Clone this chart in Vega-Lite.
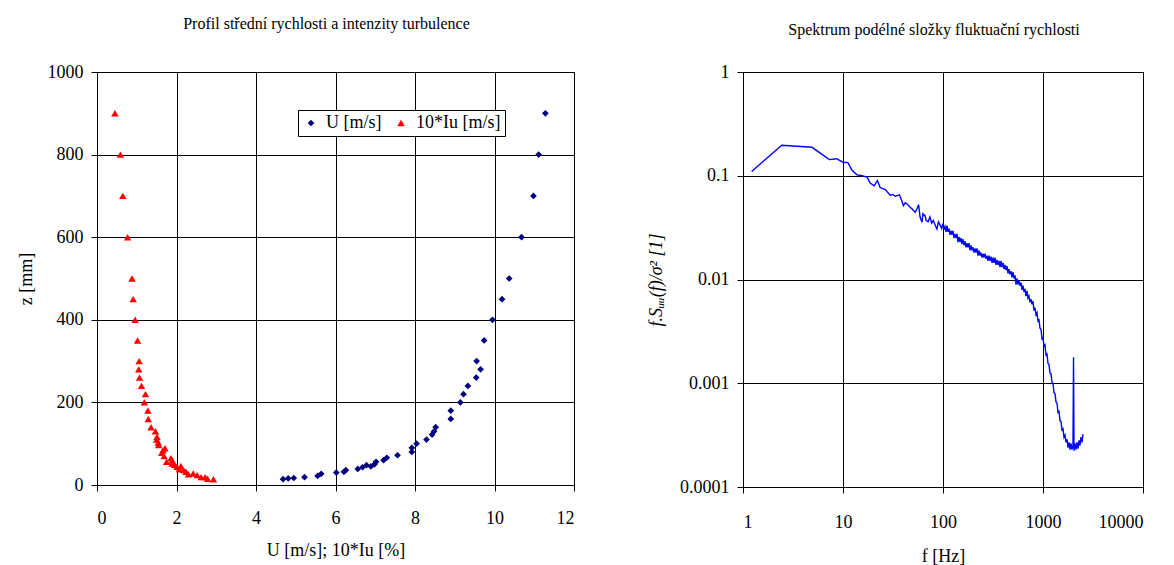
{
  "$schema": "https://vega.github.io/schema/vega-lite/v6.json",
  "padding": {"left": 16, "top": 15, "right": 5, "bottom": 0},
  "background": "white",
  "config": {
    "font": "Liberation Serif",
    "view": {"stroke": "black", "strokeWidth": 1},
    "axis": {
      "domainColor": "black", "gridColor": "black", "gridOpacity": 1, "gridWidth": 1,
      "tickColor": "black", "tickSize": 6, "labelColor": "black", "titleColor": "black",
      "labelFont": "Liberation Serif, Times New Roman, serif", "titleFont": "Liberation Serif",
      "labelFontSize": 18, "titleFontSize": 18, "titleFontWeight": "normal"
    },
    "title": {"font": "Liberation Serif", "fontSize": 16, "fontWeight": "normal", "color": "black"}
  },
  "spacing": 72,
  "hconcat": [
    {
      "width": 477,
      "height": 413,
      "title": {"text": "Profil střední rychlosti a intenzity turbulence", "offset": 31, "dx": -9},
      "data": {"values": [
        {"serie": "U [m/s]", "x": 11.28, "z": 900}, {"serie": "U [m/s]", "x": 11.11, "z": 800},
        {"serie": "U [m/s]", "x": 10.98, "z": 700}, {"serie": "U [m/s]", "x": 10.68, "z": 600},
        {"serie": "U [m/s]", "x": 10.37, "z": 500}, {"serie": "U [m/s]", "x": 10.19, "z": 450},
        {"serie": "U [m/s]", "x": 9.95, "z": 400}, {"serie": "U [m/s]", "x": 9.74, "z": 350},
        {"serie": "U [m/s]", "x": 9.55, "z": 300}, {"serie": "U [m/s]", "x": 9.65, "z": 280},
        {"serie": "U [m/s]", "x": 9.54, "z": 260}, {"serie": "U [m/s]", "x": 9.33, "z": 240},
        {"serie": "U [m/s]", "x": 9.22, "z": 220}, {"serie": "U [m/s]", "x": 9.14, "z": 200},
        {"serie": "U [m/s]", "x": 8.9, "z": 180}, {"serie": "U [m/s]", "x": 8.9, "z": 160},
        {"serie": "U [m/s]", "x": 8.52, "z": 140}, {"serie": "U [m/s]", "x": 8.48, "z": 130},
        {"serie": "U [m/s]", "x": 8.43, "z": 122}, {"serie": "U [m/s]", "x": 8.29, "z": 110},
        {"serie": "U [m/s]", "x": 8.04, "z": 100}, {"serie": "U [m/s]", "x": 7.92, "z": 90},
        {"serie": "U [m/s]", "x": 7.92, "z": 80}, {"serie": "U [m/s]", "x": 7.56, "z": 72},
        {"serie": "U [m/s]", "x": 7.29, "z": 66}, {"serie": "U [m/s]", "x": 7.21, "z": 60},
        {"serie": "U [m/s]", "x": 7.02, "z": 56}, {"serie": "U [m/s]", "x": 6.98, "z": 50},
        {"serie": "U [m/s]", "x": 6.89, "z": 45}, {"serie": "U [m/s]", "x": 6.78, "z": 48},
        {"serie": "U [m/s]", "x": 6.68, "z": 43}, {"serie": "U [m/s]", "x": 6.56, "z": 39},
        {"serie": "U [m/s]", "x": 6.26, "z": 36}, {"serie": "U [m/s]", "x": 6.21, "z": 32},
        {"serie": "U [m/s]", "x": 6.02, "z": 30}, {"serie": "U [m/s]", "x": 5.64, "z": 27},
        {"serie": "U [m/s]", "x": 5.55, "z": 22}, {"serie": "U [m/s]", "x": 5.22, "z": 19},
        {"serie": "U [m/s]", "x": 4.95, "z": 17}, {"serie": "U [m/s]", "x": 4.81, "z": 16},
        {"serie": "U [m/s]", "x": 4.68, "z": 14},
        {"serie": "10*Iu [m/s]", "x": 0.45, "z": 900}, {"serie": "10*Iu [m/s]", "x": 0.59, "z": 800},
        {"serie": "10*Iu [m/s]", "x": 0.65, "z": 700}, {"serie": "10*Iu [m/s]", "x": 0.77, "z": 600},
        {"serie": "10*Iu [m/s]", "x": 0.88, "z": 500}, {"serie": "10*Iu [m/s]", "x": 0.91, "z": 450},
        {"serie": "10*Iu [m/s]", "x": 0.96, "z": 400}, {"serie": "10*Iu [m/s]", "x": 1.02, "z": 350},
        {"serie": "10*Iu [m/s]", "x": 1.06, "z": 300}, {"serie": "10*Iu [m/s]", "x": 1.05, "z": 280},
        {"serie": "10*Iu [m/s]", "x": 1.07, "z": 260}, {"serie": "10*Iu [m/s]", "x": 1.12, "z": 240},
        {"serie": "10*Iu [m/s]", "x": 1.22, "z": 220}, {"serie": "10*Iu [m/s]", "x": 1.19, "z": 200},
        {"serie": "10*Iu [m/s]", "x": 1.28, "z": 180}, {"serie": "10*Iu [m/s]", "x": 1.29, "z": 160},
        {"serie": "10*Iu [m/s]", "x": 1.36, "z": 140}, {"serie": "10*Iu [m/s]", "x": 1.47, "z": 130},
        {"serie": "10*Iu [m/s]", "x": 1.51, "z": 117}, {"serie": "10*Iu [m/s]", "x": 1.5, "z": 110},
        {"serie": "10*Iu [m/s]", "x": 1.54, "z": 103}, {"serie": "10*Iu [m/s]", "x": 1.55, "z": 97},
        {"serie": "10*Iu [m/s]", "x": 1.71, "z": 89}, {"serie": "10*Iu [m/s]", "x": 1.66, "z": 84},
        {"serie": "10*Iu [m/s]", "x": 1.63, "z": 78}, {"serie": "10*Iu [m/s]", "x": 1.69, "z": 70},
        {"serie": "10*Iu [m/s]", "x": 1.86, "z": 65}, {"serie": "10*Iu [m/s]", "x": 1.89, "z": 60},
        {"serie": "10*Iu [m/s]", "x": 1.75, "z": 56}, {"serie": "10*Iu [m/s]", "x": 1.89, "z": 52},
        {"serie": "10*Iu [m/s]", "x": 1.95, "z": 49}, {"serie": "10*Iu [m/s]", "x": 2.11, "z": 46},
        {"serie": "10*Iu [m/s]", "x": 2.01, "z": 44}, {"serie": "10*Iu [m/s]", "x": 2.07, "z": 38},
        {"serie": "10*Iu [m/s]", "x": 2.18, "z": 36}, {"serie": "10*Iu [m/s]", "x": 2.24, "z": 32},
        {"serie": "10*Iu [m/s]", "x": 2.42, "z": 28}, {"serie": "10*Iu [m/s]", "x": 2.3, "z": 26},
        {"serie": "10*Iu [m/s]", "x": 2.52, "z": 24}, {"serie": "10*Iu [m/s]", "x": 2.62, "z": 19},
        {"serie": "10*Iu [m/s]", "x": 2.72, "z": 19}, {"serie": "10*Iu [m/s]", "x": 2.78, "z": 15},
        {"serie": "10*Iu [m/s]", "x": 2.93, "z": 14}
      ]},
      "mark": {"type": "point", "filled": true, "opacity": 1},
      "encoding": {
        "x": {"field": "x", "type": "quantitative",
              "scale": {"domain": [0, 12], "nice": false, "zero": false},
              "axis": {"values": [0, 2, 4, 6, 8, 10, 12], "format": "d", "title": "U [m/s]; 10*Iu [%]", "labelPadding": 18, "titlePadding": 14}},
        "y": {"field": "z", "type": "quantitative",
              "scale": {"domain": [0, 1000], "nice": false},
              "axis": {"values": [0, 200, 400, 600, 800, 1000], "format": "d", "title": "z [mm]", "labelPadding": 8, "titlePadding": 12}},
        "color": {"field": "serie", "type": "nominal",
                  "scale": {"domain": ["U [m/s]", "10*Iu [m/s]"], "range": ["#000080", "#FF0000"]},
                  "legend": {"title": null, "orient": "none", "legendX": 201, "legendY": 38, "direction": "horizontal",
                             "strokeColor": "black", "fillColor": "white", "padding": 4, "labelFontSize": 18,
                             "labelFont": "Liberation Serif", "labelColor": "black", "symbolSize": 30, "columnPadding": 10, "labelOffset": 6}},
        "shape": {"field": "serie", "type": "nominal",
                  "scale": {"domain": ["U [m/s]", "10*Iu [m/s]"], "range": ["diamond", "triangle-up"]}},
        "size": {"field": "serie", "type": "nominal",
                 "scale": {"domain": ["U [m/s]", "10*Iu [m/s]"], "range": [45, 55]}, "legend": null}
      }
    },
    {
      "width": 400,
      "height": 415,
      "title": {"text": "Spektrum podélné složky fluktuační rychlosti", "offset": 25, "dx": -9},
      "data": {"values": [
        {"f": 1.22, "S": 0.110}, {"f": 2.44, "S": 0.197}, {"f": 4.9, "S": 0.188}, {"f": 7.3, "S": 0.143},
        {"f": 8.6, "S": 0.146}, {"f": 10.0, "S": 0.135}, {"f": 11.2, "S": 0.134}, {"f": 12.3, "S": 0.113},
        {"f": 13.8, "S": 0.102}, {"f": 15.5, "S": 0.100}, {"f": 17.4, "S": 0.097}, {"f": 18.7, "S": 0.085},
        {"f": 20.5, "S": 0.080}, {"f": 22.1, "S": 0.090}, {"f": 23.5, "S": 0.077}, {"f": 26.5, "S": 0.0735},
        {"f": 29.7, "S": 0.0645}, {"f": 31.5, "S": 0.066}, {"f": 33.3, "S": 0.0635}, {"f": 36.7, "S": 0.0655},
        {"f": 38.5, "S": 0.058}, {"f": 40.2, "S": 0.0515}, {"f": 42.0, "S": 0.055}, {"f": 43.7, "S": 0.0535},
        {"f": 47.0, "S": 0.0497}, {"f": 50.0, "S": 0.047}, {"f": 52.7, "S": 0.0444}, {"f": 55.0, "S": 0.048},
        {"f": 57.0, "S": 0.0526}, {"f": 59.0, "S": 0.040}, {"f": 61.7, "S": 0.0356}, {"f": 63.0, "S": 0.043},
        {"f": 66.0, "S": 0.0412}, {"f": 68.0, "S": 0.037}, {"f": 71.0, "S": 0.036}, {"f": 74.0, "S": 0.040},
        {"f": 77.0, "S": 0.035}, {"f": 80.0, "S": 0.037}, {"f": 84.0, "S": 0.033}, {"f": 87.0, "S": 0.0307},
        {"f": 90.0, "S": 0.036}, {"f": 94.0, "S": 0.0331}, {"f": 97.0, "S": 0.031},
        {"f": 100.0, "S": 0.03467}, {"f": 102.3, "S": 0.0302}, {"f": 104.7, "S": 0.03236}, {"f": 107.2, "S": 0.02884},
        {"f": 109.6, "S": 0.03311}, {"f": 112.2, "S": 0.02884}, {"f": 114.8, "S": 0.0309}, {"f": 117.5, "S": 0.02692},
        {"f": 120.2, "S": 0.02951}, {"f": 123.0, "S": 0.02692}, {"f": 125.9, "S": 0.02951}, {"f": 128.8, "S": 0.02512},
        {"f": 131.8, "S": 0.02754}, {"f": 134.9, "S": 0.02512}, {"f": 138.0, "S": 0.02754}, {"f": 141.3, "S": 0.02291},
        {"f": 144.5, "S": 0.0257}, {"f": 147.9, "S": 0.02291}, {"f": 151.4, "S": 0.02512}, {"f": 154.9, "S": 0.02188},
        {"f": 158.5, "S": 0.02455}, {"f": 162.2, "S": 0.02138}, {"f": 166.0, "S": 0.02344}, {"f": 169.8, "S": 0.02042},
        {"f": 173.8, "S": 0.02239}, {"f": 177.8, "S": 0.02042}, {"f": 182.0, "S": 0.02239}, {"f": 186.2, "S": 0.01905},
        {"f": 190.5, "S": 0.02138}, {"f": 195.0, "S": 0.01905}, {"f": 199.5, "S": 0.02042}, {"f": 204.2, "S": 0.0182},
        {"f": 208.9, "S": 0.01995}, {"f": 213.8, "S": 0.0182}, {"f": 218.8, "S": 0.01995}, {"f": 223.9, "S": 0.01698},
        {"f": 229.1, "S": 0.01905}, {"f": 234.4, "S": 0.01698}, {"f": 239.9, "S": 0.0182}, {"f": 245.5, "S": 0.01622},
        {"f": 251.2, "S": 0.01778}, {"f": 257.0, "S": 0.01622}, {"f": 263.0, "S": 0.01778}, {"f": 269.2, "S": 0.01585},
        {"f": 275.4, "S": 0.01698}, {"f": 281.8, "S": 0.01514}, {"f": 288.4, "S": 0.01698}, {"f": 295.1, "S": 0.01514},
        {"f": 302.0, "S": 0.0166}, {"f": 309.0, "S": 0.01445}, {"f": 316.2, "S": 0.01622}, {"f": 323.6, "S": 0.01445},
        {"f": 331.1, "S": 0.01622}, {"f": 338.8, "S": 0.0138}, {"f": 346.7, "S": 0.01549}, {"f": 354.8, "S": 0.0138},
        {"f": 363.1, "S": 0.01514}, {"f": 371.5, "S": 0.01318}, {"f": 380.2, "S": 0.01514}, {"f": 389.0, "S": 0.01318},
        {"f": 398.1, "S": 0.01445}, {"f": 407.4, "S": 0.01259}, {"f": 416.9, "S": 0.0138}, {"f": 426.6, "S": 0.0123},
        {"f": 436.5, "S": 0.01349}, {"f": 446.7, "S": 0.01148}, {"f": 457.1, "S": 0.01259}, {"f": 467.7, "S": 0.01122},
        {"f": 478.6, "S": 0.01202}, {"f": 489.8, "S": 0.01047}, {"f": 501.2, "S": 0.01175}, {"f": 512.9, "S": 0.01023},
        {"f": 524.8, "S": 0.01096}, {"f": 537.0, "S": 0.008913}, {"f": 549.5, "S": 0.01023}, {"f": 562.3, "S": 0.008913},
        {"f": 575.4, "S": 0.009772}, {"f": 588.8, "S": 0.00871}, {"f": 602.6, "S": 0.009333}, {"f": 616.6, "S": 0.007943},
        {"f": 631.0, "S": 0.00871}, {"f": 645.7, "S": 0.007586}, {"f": 660.7, "S": 0.008128}, {"f": 676.1, "S": 0.006918},
        {"f": 691.8, "S": 0.007762}, {"f": 707.9, "S": 0.006607}, {"f": 724.4, "S": 0.006918}, {"f": 741.3, "S": 0.006026},
        {"f": 758.6, "S": 0.006457}, {"f": 776.2, "S": 0.005754}, {"f": 794.3, "S": 0.006166}, {"f": 812.8, "S": 0.005012},
        {"f": 831.8, "S": 0.00537}, {"f": 851.1, "S": 0.004571}, {"f": 871.0, "S": 0.004786}, {"f": 891.3, "S": 0.003981},
        {"f": 912.0, "S": 0.004074}, {"f": 933.3, "S": 0.003388}, {"f": 955.0, "S": 0.003311}, {"f": 977.2, "S": 0.002692},
        {"f": 1000, "S": 0.002754}, {"f": 1023, "S": 0.002291}, {"f": 1047, "S": 0.002344}, {"f": 1072, "S": 0.001862},
        {"f": 1096, "S": 0.001905}, {"f": 1122, "S": 0.001549}, {"f": 1148, "S": 0.001514}, {"f": 1175, "S": 0.001259},
        {"f": 1202, "S": 0.00123}, {"f": 1230, "S": 0.001023}, {"f": 1259, "S": 0.001}, {"f": 1288, "S": 0.0008128},
        {"f": 1318, "S": 0.0007943}, {"f": 1349, "S": 0.0006607}, {"f": 1380, "S": 0.0006457}, {"f": 1413, "S": 0.0005248},
        {"f": 1445, "S": 0.000537}, {"f": 1479, "S": 0.0004365}, {"f": 1514, "S": 0.0004266}, {"f": 1549, "S": 0.0003548},
        {"f": 1585, "S": 0.0003631}, {"f": 1622, "S": 0.000302}, {"f": 1660, "S": 0.0003162}, {"f": 1698, "S": 0.0002692},
        {"f": 1738, "S": 0.0002884}, {"f": 1778, "S": 0.0002399}, {"f": 1820, "S": 0.0002692}, {"f": 1862, "S": 0.0002291},
        {"f": 1905, "S": 0.000263}, {"f": 1950, "S": 0.0002291}, {"f": 1995, "S": 0.0002512}, {"f": 2020, "S": 0.00178},
        {"f": 2042, "S": 0.0002239}, {"f": 2089, "S": 0.000263}, {"f": 2138, "S": 0.0002291}, {"f": 2188, "S": 0.0002692},
        {"f": 2239, "S": 0.0002344}, {"f": 2291, "S": 0.0002818}, {"f": 2344, "S": 0.0002512}, {"f": 2399, "S": 0.000302},
        {"f": 2455, "S": 0.0002692}, {"f": 2512, "S": 0.0003236}
      ]},
      "mark": {"type": "line", "color": "#0000FF", "strokeWidth": 1.4},
      "encoding": {
        "x": {"field": "f", "type": "quantitative", "sort": null,
              "scale": {"type": "log", "domain": [1, 10000], "nice": false},
              "axis": {"values": [1, 10, 100, 1000, 10000], "format": "d", "title": "f [Hz]", "labelPadding": 20, "titlePadding": 16}},
        "y": {"field": "S", "type": "quantitative",
              "scale": {"type": "log", "domain": [0.0001, 1], "nice": false},
              "axis": {"values": [0.0001, 0.001, 0.01, 0.1, 1], "format": "~g", "title": "f.Sᵤᵤ(f)/σ² [1]", "titleFontStyle": "italic", "labelPadding": 8, "titlePadding": 14}}
      }
    }
  ]
}
